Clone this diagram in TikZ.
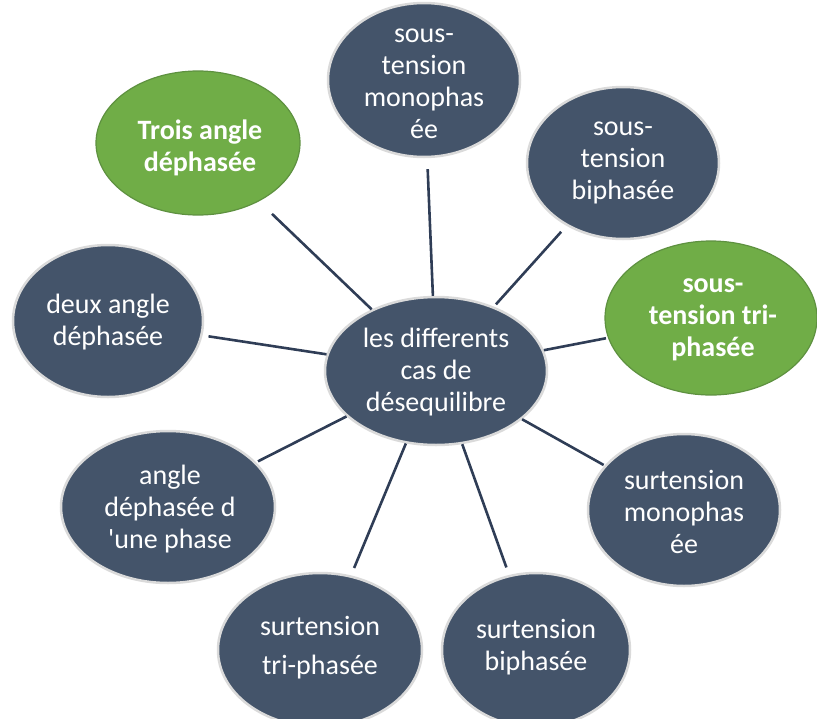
\documentclass[tikz,border=0pt]{standalone}
\usepackage{fontspec}
\setmainfont{Carlito}
\usetikzlibrary{shapes.geometric}
\definecolor{slate}{HTML}{44546A}
\definecolor{leaf}{HTML}{70AD47}
\definecolor{leafline}{HTML}{5E9140}
\definecolor{rim}{HTML}{DADADA}
\definecolor{wire}{HTML}{2F3D56}
\begin{document}
\begin{tikzpicture}[x=1pt,y=-1pt,
  bub/.style={ellipse, fill=slate, draw=rim, line width=2.5pt, inner sep=0pt},
  greenbub/.style={bub, fill=leaf, draw=leafline, line width=1.2pt},
  txt/.style={text=white, align=center, font=\fontsize{28}{32}\selectfont, inner sep=0pt},
  boldtxt/.style={txt, font=\fontsize{28}{32}\selectfont\bfseries},
  conn/.style={draw=wire, line width=2.6pt}]
\useasboundingbox (0,0) rectangle (817,718);

% bubbles
\node[bub, minimum width=192pt, minimum height=154pt] (n1) at (424,80) {};
\node[greenbub, minimum width=204pt, minimum height=144pt] (n2) at (198,143) {};
\node[bub, minimum width=192pt, minimum height=152pt] (n3) at (623,163) {};
\node[greenbub, minimum width=212pt, minimum height=154pt] (n4) at (711,318) {};
\node[bub, minimum width=190pt, minimum height=152pt] (n5) at (108,321) {};
\node[bub, minimum width=222pt, minimum height=148pt] (n6) at (436,371) {};
\node[bub, minimum width=192pt, minimum height=152pt] (n7) at (684,510) {};
\node[bub, minimum width=214pt, minimum height=152pt] (n8) at (168,507) {};
\node[bub, minimum width=204pt, minimum height=154pt] (n9) at (320,650) {};
\node[bub, minimum width=188pt, minimum height=154pt] (n10) at (536,650) {};

% texts
\node[txt] (t1) at (424,84) {sous-\\tension\\monophas\\ée};
\node[boldtxt] (t2) at (200,148) {Trois angle\\déphasée};
\node[txt] (t3) at (623,163) {sous-\\tension\\biphasée};
\node[boldtxt] (t4) at (713,320) {sous-\\tension tri-\\phasée};
\node[txt] (t5) at (108,322) {deux angle\\déphasée};
\node[txt] (t6) at (436,372) {les differents\\cas de\\désequilibre};
\node[txt] (t7) at (684,512) {surtension\\monophas\\ée};
\node[txt] (t8) at (170,509) {angle\\déphasée d\\\textquotesingle une phase};
\node[txt] (t9) at (320,648) {surtension\\[7pt]tri-phasée};
\node[txt] (t10) at (536,647) {surtension\\biphasée};

% connectors
\draw[conn, shorten <=11pt] (n1) -- (n6);
\draw[conn, shorten <=18pt] (n2) -- (n6);
\draw[conn, shorten <=8pt, shorten >=3pt] (n3) -- (n6);
\draw[conn, shorten <=2pt] (n4) -- (n6);
\draw[conn, shorten <=6pt] (n5) -- (n6);
\draw[conn, shorten <=1pt] (n7) -- (n6);
\draw[conn, shorten <=2pt] (n8) -- (n6);
\draw[conn, shorten <=8pt] (n9) -- (n6);
\draw[conn, shorten <=8pt] (n10) -- (n6);
\end{tikzpicture}
\end{document}
